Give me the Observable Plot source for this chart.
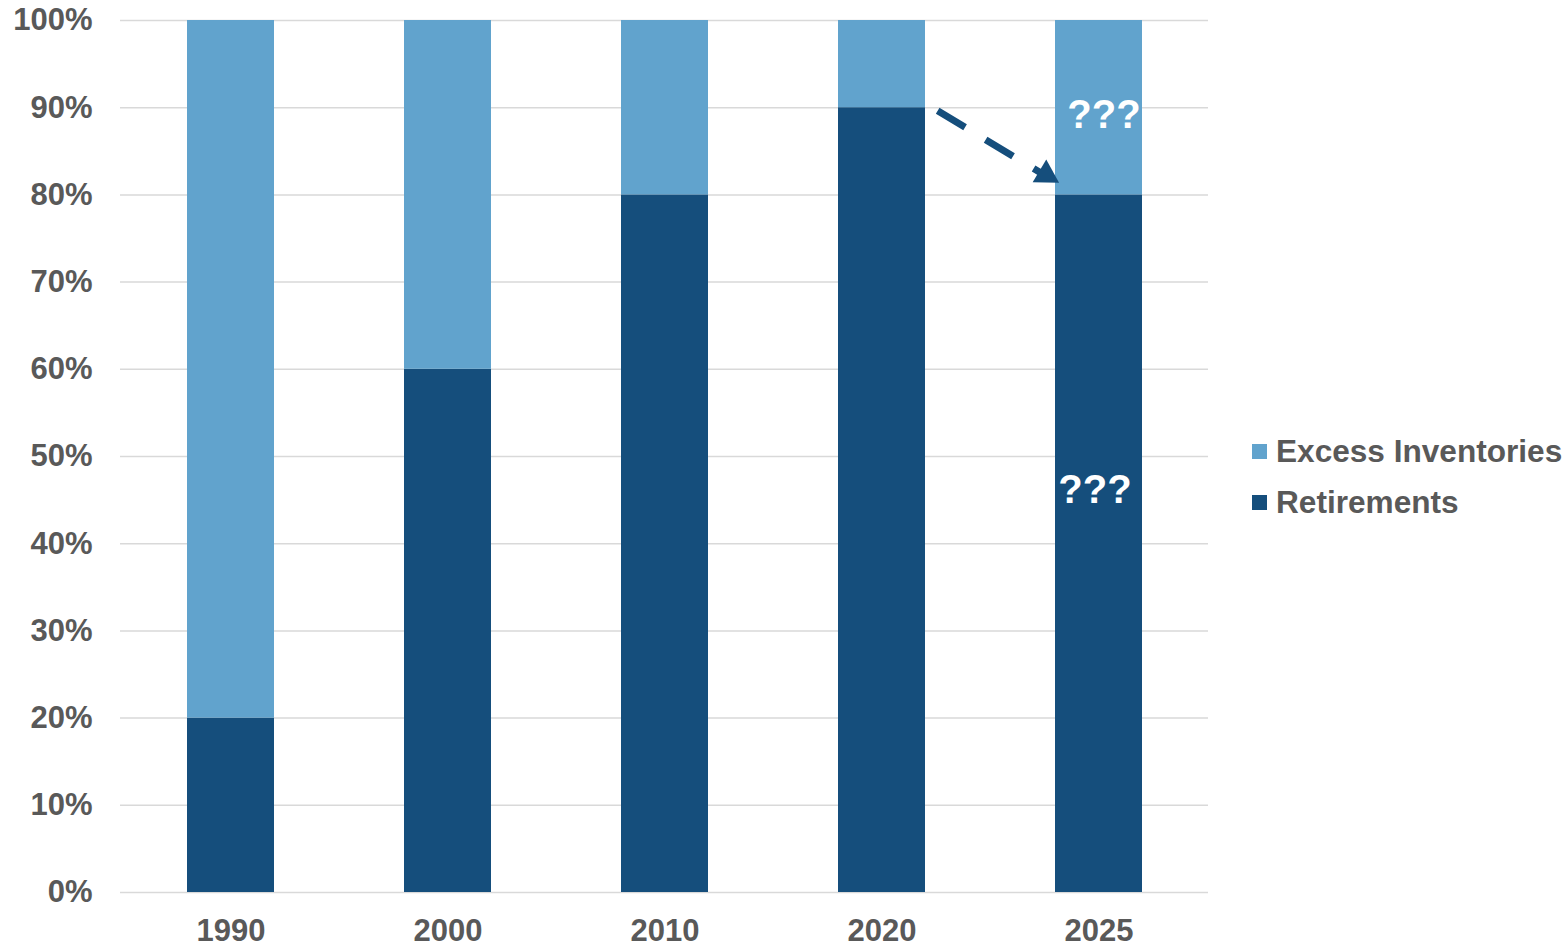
<!DOCTYPE html>
<html>
<head>
<meta charset="utf-8">
<script src="https://cdn.jsdelivr.net/npm/d3@7"></script>
<script src="https://cdn.jsdelivr.net/npm/@observablehq/plot@0.6"></script>
<style>
  html, body { margin: 0; padding: 0; background: #fff; }
  #wrap { position: relative; width: 1565px; height: 944px; overflow: hidden; font-family: "Liberation Sans", Arial, sans-serif; }
  #legend { position: absolute; left: 1252px; top: 426px; color: #595959; font-weight: bold; font-size: 31.6px; line-height: 51px; }
  .item { display: flex; align-items: center; white-space: nowrap; }
  .sw { width: 15px; height: 15px; margin-right: 9px; }
</style>
</head>
<body>
<div id="wrap"><div id="legend"></div></div>
<script>
const years = ["1990", "2000", "2010", "2020", "2025"];
const seriesNames = ["Retirements", "Excess Inventories"];
const retirements = [20, 60, 80, 90, 80];
const excessInventories = [80, 40, 20, 10, 20];
const yTicks = [0, 10, 20, 30, 40, 50, 60, 70, 80, 90, 100];
const seriesColors = ["#154e7c", "#61a3cd"];
const annotations = [
  {year: "2025", value: 89.1, label: "???", dx: 5},
  {year: "2025", value: 46.1, label: "???", dx: -4}
];
const arrowFrom = {year: "2020", value: 93.5};
const arrowTo = {year: "2025", value: 78.5};
const arrowHead = {year: "2025", value: 82.3};

const table = [];
years.forEach((y, i) => {
  table.push({year: y, series: seriesNames[0], value: retirements[i]});
  table.push({year: y, series: seriesNames[1], value: excessInventories[i]});
});

const plot = Plot.plot({
  width: 1565,
  height: 944,
  marginLeft: 120,
  marginRight: 357,
  marginTop: 20,
  marginBottom: 52,
  style: {fontFamily: '"Liberation Sans", Arial, sans-serif', fontSize: "31px", fontWeight: "bold", color: "#595959", background: "#fff"},
  x: {domain: years, paddingInner: 0.6, paddingOuter: 0.3, label: null},
  y: {domain: [0, 100], label: null},
  color: {domain: seriesNames, range: seriesColors},
  marks: [
    Plot.ruleY(yTicks, {stroke: "#d9d9d9", strokeWidth: 1.5}),
    Plot.barY(table, {x: "year", y: "value", fill: "series", order: seriesNames}),
    Plot.axisY({ticks: yTicks, tickFormat: d => d + "%", tickSize: 0, tickPadding: 28, fontWeight: "bold"}),
    Plot.axisX({tickSize: 0, tickPadding: 26, fontWeight: "bold"}),
    ...annotations.map(a => Plot.text([a], {x: "year", y: "value", text: "label", dx: a.dx, fill: "#fff", fontSize: 40, fontWeight: "bold"})),
    Plot.arrow([{x1: arrowFrom.year, y1: arrowFrom.value, x2: arrowTo.year, y2: arrowTo.value}], {
      x1: "x1", y1: "y1", x2: "x2", y2: "y2",
      stroke: seriesColors[0], strokeWidth: 7, headLength: 0, insetStart: 65, insetEnd: 60,
      strokeDasharray: "32,24", strokeLinecap: "butt"
    }),
    Plot.dot([arrowHead], {x: "year", y: "value", symbol: "triangle", r: 9.8, rotate: 121, dx: -53, fill: seriesColors[0], stroke: "none"})
  ]
});
const wrap = document.getElementById("wrap");
wrap.insertBefore(plot, wrap.firstChild);

const legend = document.getElementById("legend");
[seriesNames[1], seriesNames[0]].forEach(name => {
  const item = document.createElement("div");
  item.className = "item";
  const sw = document.createElement("span");
  sw.className = "sw";
  sw.style.background = seriesColors[seriesNames.indexOf(name)];
  item.appendChild(sw);
  item.appendChild(document.createTextNode(name));
  legend.appendChild(item);
});
</script>
</body>
</html>
